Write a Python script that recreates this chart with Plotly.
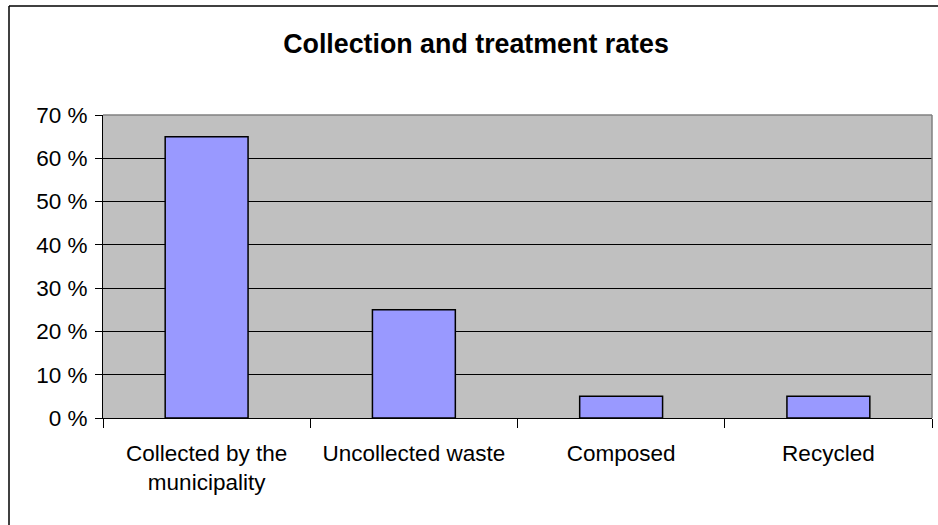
import plotly.graph_objects as go

categories = ["Collected by the<br>municipality", "Uncollected waste", "Composed", "Recycled"]
values = [65, 25, 5, 5]
y_ticks = [0, 10, 20, 30, 40, 50, 60, 70]
y_tick_labels = [f"{v} %" for v in y_ticks]

W, H = 938, 525
L, R, T, B = 103, 6, 115, 107
pw, ph = W - L - R, H - T - B

def px_x(x):
    return (x - L) / pw

def px_y(y):
    return (H - B - y) / ph

fig = go.Figure(go.Bar(
    x=categories, y=values,
    marker=dict(color="#9999FF", line=dict(color="black", width=1.5)),
    width=0.4,
))

font = "Liberation Sans, Arial, sans-serif"
fig.update_layout(
    width=W, height=H,
    margin=dict(l=L, r=R, t=T, b=B),
    paper_bgcolor="white",
    plot_bgcolor="#C0C0C0",
    showlegend=False,
    title=dict(text="<b>Collection and treatment rates</b>", x=px_x(476), xref="paper",
               xanchor="center", y=1 - 44 / H, yanchor="middle",
               font=dict(family=font, size=26.8, color="black")),
    font=dict(family=font, color="black"),
    bargap=0.6,
)
fig.update_xaxes(
    type="category", tickson="boundaries", ticks="outside", ticklen=9,
    tickcolor="black", showline=True, linecolor="black", linewidth=1,
    tickfont=dict(size=22.5, family=font, color="black"), showgrid=False,
    ticklabelstandoff=15,
)
fig.update_yaxes(
    range=[0, 70], tickvals=y_ticks, ticktext=y_tick_labels,
    ticks="outside", ticklen=7, tickcolor="black",
    showline=True, linecolor="black", linewidth=1,
    showgrid=True, gridcolor="black", gridwidth=1,
    tickfont=dict(size=22.5, family=font, color="black"), zeroline=False,
    ticklabelstandoff=3,
)
shapes = [
    dict(type="line", xref="paper", yref="paper", x0=0, x1=1, y0=1, y1=1,
         line=dict(color="#808080", width=1.5)),
    dict(type="line", xref="paper", yref="paper", x0=1, x1=1, y0=0, y1=1,
         line=dict(color="#808080", width=1.5)),
    dict(type="line", xref="paper", yref="paper", x0=px_x(9), x1=px_x(940), y0=px_y(6), y1=px_y(6),
         line=dict(color="black", width=1.5)),
    dict(type="line", xref="paper", yref="paper", x0=px_x(9), x1=px_x(9), y0=px_y(6), y1=px_y(530),
         line=dict(color="black", width=1.5)),
]
fig.update_layout(shapes=shapes)
fig.write_html("out.html")
